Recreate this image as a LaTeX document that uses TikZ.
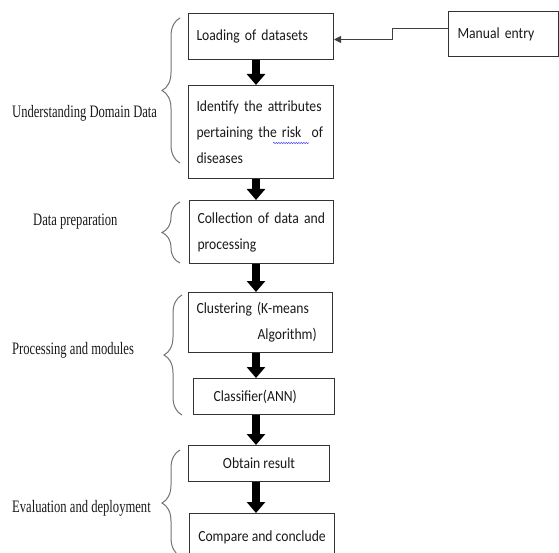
\documentclass[tikz,border=0pt]{standalone}
\usepackage{fontspec}
\setmainfont{Liberation Serif}[FakeStretch=0.72]
\newfontfamily\boxfont{Carlito}[FakeStretch=0.88]
\usetikzlibrary{positioning,arrows.meta,decorations.pathreplacing,decorations.pathmorphing}
\tikzset{
  stagebox/.style={draw=black!80, line width=1pt, anchor=north west, inner xsep=8pt, inner ysep=0pt, align=left, text=black!90, font=\boxfont\fontsize{15.5}{26}\selectfont},
  blockarrow/.style={line width=7.5pt, -{Triangle[width=18pt,length=11pt]}},
  feedarrow/.style={draw=black!75, line width=1pt, -{Triangle[width=7pt,length=7pt]}},
  phasebrace/.style={draw=black!55, line width=1pt, decorate, decoration={brace, amplitude=18pt}},
  phaselabel/.style={anchor=west, inner sep=0pt, text=black!90, font=\fontsize{17.5}{20}\selectfont},
  spellwave/.style={draw=blue!70, line width=0.5pt, decorate, decoration={snake, amplitude=0.7pt, segment length=2.5pt}}
}

\begin{document}
\begin{tikzpicture}[x=1pt, y=-1pt, >=Latex]
  \useasboundingbox (0,0) rectangle (559,553);
  \coordinate (spine) at (256,0);
  % flow boxes
  \node[stagebox, minimum width=145pt, minimum height=46pt, text width=129pt] (load) at (188,13) {Loading of datasets};
  \node[stagebox, minimum width=145pt, minimum height=93pt, text width=129pt] (attr) at (188,85) {Identify the attributes\\pertaining the risk\ \ of\\diseases};
  \node[stagebox, minimum width=144pt, minimum height=63pt, text width=128pt] (collect) at (189,200) {Collection of data and\\processing};
  \node[stagebox, minimum width=144pt, minimum height=60pt, text width=128pt] (cluster) at (188,292) {Clustering (K-means\\\hspace*{61pt}Algorithm)};
  \node[stagebox, minimum width=141pt, minimum height=36pt, inner xsep=20pt, text width=101pt] (classify) at (193,378) {Classifier(ANN)};
  \node[stagebox, minimum width=141pt, minimum height=36pt, align=center] (result) at (188,445) {Obtain result};
  \node[stagebox, minimum width=145pt, minimum height=47pt, align=center] (conclude) at (189,513) {Compare and conclude};
  \node[stagebox, minimum width=110pt, minimum height=45pt, inner xsep=9pt, text width=92pt] (manual) at (448,11) {Manual entry};
  \draw[spellwave] ([xshift=85pt,yshift=-58pt]attr.north west) -- ++(36,0);

  % arrows down the flow
  \draw[blockarrow] (load.south -| spine) -- (attr.north -| spine);
  \draw[blockarrow] (attr.south -| spine) -- (collect.north -| spine);
  \draw[blockarrow] (collect.south -| spine) -- (cluster.north -| spine);
  \draw[blockarrow] (cluster.south -| spine) -- (classify.north -| spine);
  \draw[blockarrow] (classify.south -| spine) -- (result.north -| spine);
  \draw[blockarrow] (result.south -| spine) -- (conclude.north -| spine);
  \draw[feedarrow] ([yshift=5.5pt]manual.west) -- ++(-56,0) |- ([yshift=-3pt]load.east);

  % phases
  \draw[phasebrace] (180,163) -- (180,18);
  \draw[phasebrace] (180,263) -- (180,202);
  \draw[phasebrace] (182,415) -- (182,295);
  \draw[phasebrace] (180,556) -- (180,450);
  \node[phaselabel] (understand) at (12,113) {Understanding Domain Data};
  \node[phaselabel] (prep) at (33,222) {Data preparation};
  \node[phaselabel] (procmod) at (12,350) {Processing and modules};
  \node[phaselabel] (evaldep) at (12,508) {Evaluation and deployment};
\end{tikzpicture}
\end{document}
